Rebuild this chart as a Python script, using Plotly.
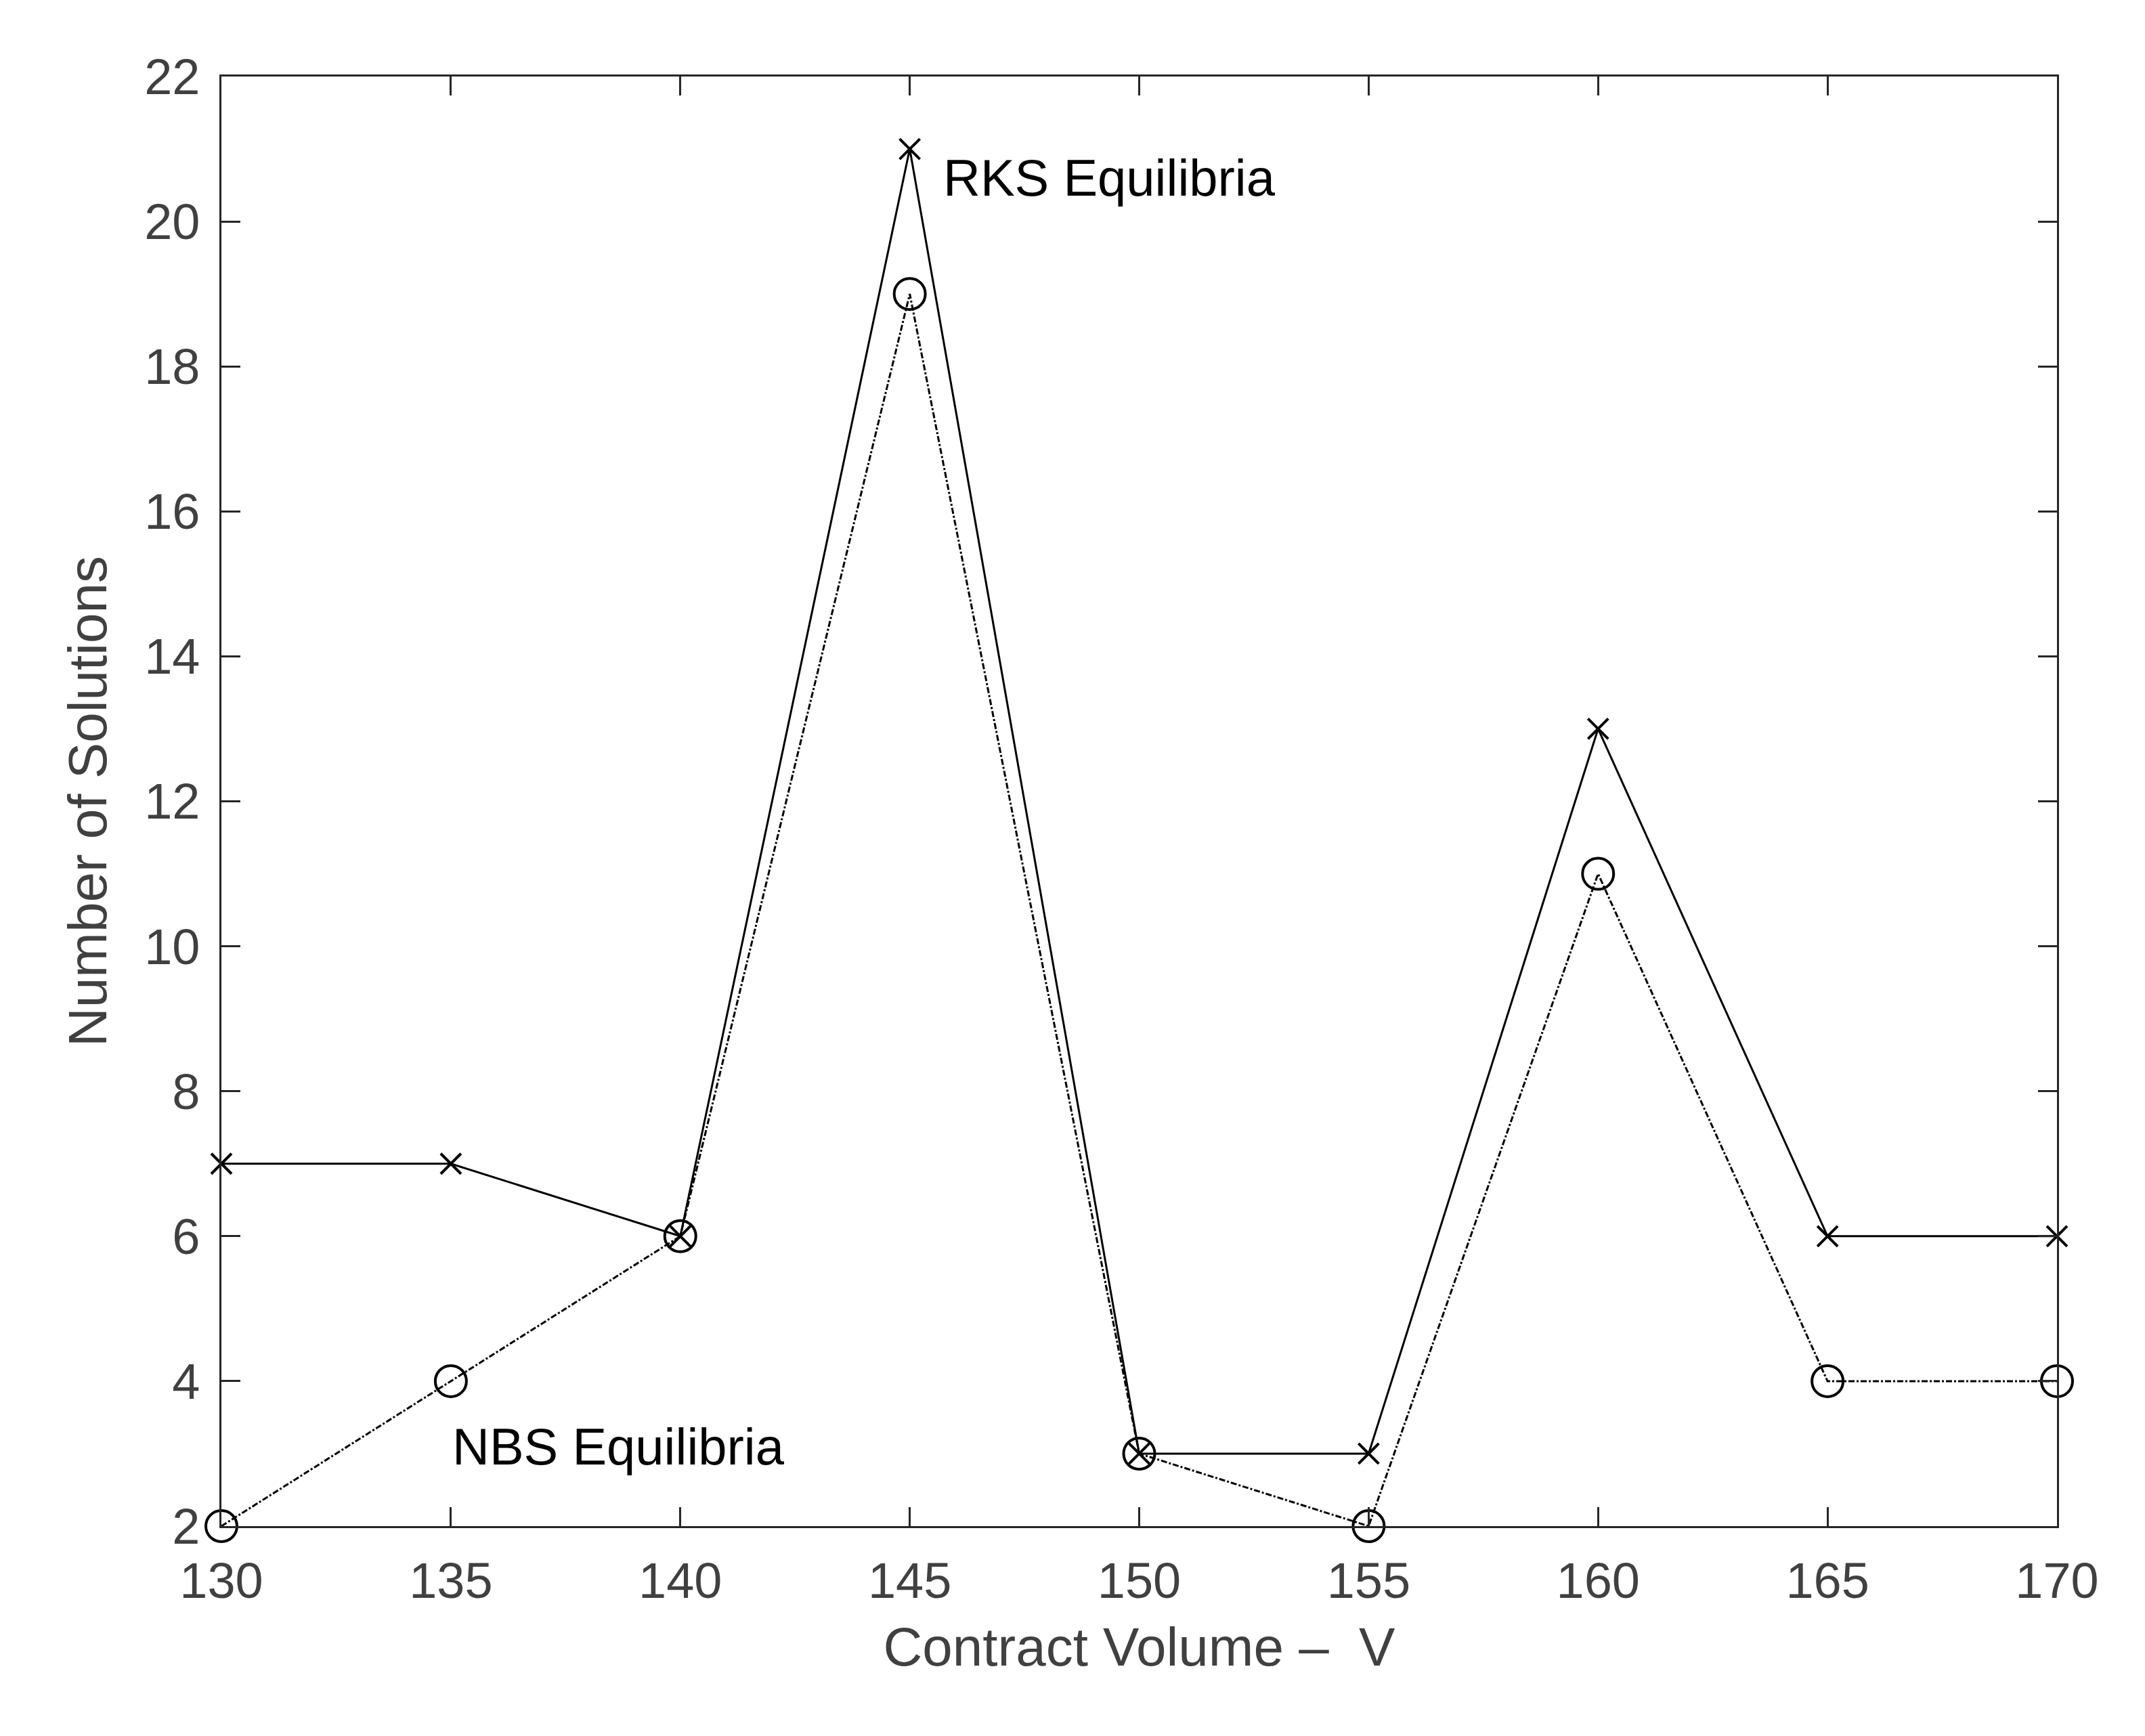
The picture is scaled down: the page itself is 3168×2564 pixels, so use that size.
import plotly.graph_objects as go

volume = [130, 135, 140, 145, 150, 155, 160, 165, 170]
rks = [7, 7, 6, 21, 3, 3, 13, 6, 6]
nbs = [2, 4, 6, 19, 3, 2, 11, 4, 4]

fig = go.Figure()
fig.add_trace(go.Scatter(x=volume, y=rks, mode='lines+markers', cliponaxis=False,
                         line=dict(color='black', width=3),
                         marker=dict(symbol='x-thin', size=30, line=dict(width=4, color='black'))))
fig.add_trace(go.Scatter(x=volume, y=nbs, mode='lines+markers', cliponaxis=False,
                         line=dict(color='black', width=3, dash='dashdot'),
                         marker=dict(symbol='circle-open', size=46, line=dict(width=4, color='black'))))

fig.add_annotation(x=145.7, y=20.6, text='RKS Equilibria', showarrow=False,
                   xanchor='left', yanchor='middle', font=dict(size=76, color='black'))
fig.add_annotation(x=135, y=3.1, text='NBS Equilibria', showarrow=False,
                   xanchor='left', yanchor='middle', font=dict(size=76, color='black'))

axis = dict(showgrid=False, zeroline=False, showline=True, linecolor='#262626', linewidth=2.5,
            mirror='ticks', ticks='inside', ticklen=28, tickwidth=2.5, tickcolor='#262626',
            tickfont=dict(size=74, color='#404040'))
fig.update_xaxes(range=[130, 170], tickvals=volume, ticklabelstandoff=14,
                 title=dict(text='Contract Volume \u2013  V',
                            font=dict(size=80, color='#404040'), standoff=30), **axis)
fig.update_yaxes(range=[2, 22], tickvals=list(range(2, 23, 2)), ticklabelstandoff=14,
                 title=dict(text='Number of Solutions',
                            font=dict(size=80, color='#404040'), standoff=30), **axis)

fig.update_layout(width=3168, height=2564, showlegend=False,
                  plot_bgcolor='white', paper_bgcolor='white',
                  font=dict(family='Liberation Sans, Arial'),
                  margin=dict(l=319, r=138, t=105, b=318))
fig.write_html("out.html")
